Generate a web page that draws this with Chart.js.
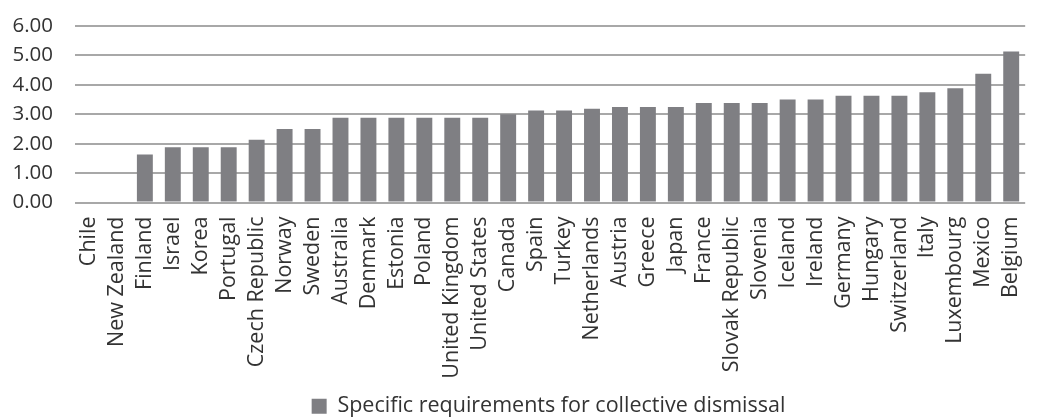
<!DOCTYPE html>
<html>
<head>
<meta charset="utf-8">
<script src="https://cdn.jsdelivr.net/npm/chart.js@4/dist/chart.umd.min.js"></script>
<style>
  html, body { margin: 0; padding: 0; background: #fff; }
  #wrap { width: 1051px; height: 417px; }
</style>
</head>
<body>
<div id="wrap"><canvas id="dismissalChart" width="1051" height="417"></canvas></div>
<script>
const countries = [
  'Chile', 'New Zealand', 'Finland', 'Israel', 'Korea', 'Portugal', 'Czech Republic',
  'Norway', 'Sweden', 'Australia', 'Denmark', 'Estonia', 'Poland', 'United Kingdom',
  'United States', 'Canada', 'Spain', 'Turkey', 'Netherlands', 'Austria', 'Greece',
  'Japan', 'France', 'Slovak Republic', 'Slovenia', 'Iceland', 'Ireland', 'Germany',
  'Hungary', 'Switzerland', 'Italy', 'Luxembourg', 'Mexico', 'Belgium'
];
const collectiveDismissal = [
  0, 0, 1.63, 1.88, 1.88, 1.88, 2.13,
  2.50, 2.50, 2.88, 2.88, 2.88, 2.88, 2.88,
  2.88, 3.00, 3.13, 3.13, 3.19, 3.25, 3.25,
  3.25, 3.38, 3.38, 3.38, 3.50, 3.50, 3.63,
  3.63, 3.63, 3.75, 3.88, 4.38, 5.13
];
const yTicks = [0, 1, 2, 3, 4, 5, 6];

const textColor = '#333333';
const fontFamily = '"Open Sans", "Noto Sans", sans-serif';

// nudge the legend a little right of the canvas centre
const legendShift = {
  id: 'legendShift',
  afterLayout(chart) {
    chart.legend.left += 22;
    chart.legend.right += 22;
  }
};

const ctx = document.getElementById('dismissalChart').getContext('2d');
new Chart(ctx, {
  type: 'bar',
  data: {
    labels: countries,
    datasets: [{
      label: 'Specific requirements for collective dismissal',
      data: collectiveDismissal,
      backgroundColor: '#7f7f83',
      borderWidth: 0,
      categoryPercentage: 1,
      barPercentage: 0.57
    }]
  },
  plugins: [legendShift],
  options: {
    responsive: false,
    animation: false,
    layout: { padding: { top: 26, right: 0, left: 2, bottom: -10 } },
    plugins: {
      tooltip: { enabled: false },
      legend: {
        position: 'bottom',
        labels: {
          color: textColor,
          font: { family: fontFamily, size: 21.5 },
          boxWidth: 15,
          boxHeight: 15,
          padding: 2
        }
      }
    },
    scales: {
      x: {
        grid: { display: false, drawTicks: false },
        border: { display: false },
        afterFit: s => { s.height = 191; },
        ticks: {
          autoSkip: false,
          maxRotation: 90,
          minRotation: 90,
          padding: 14,
          color: textColor,
          font: { family: fontFamily, size: 21.5 }
        }
      },
      y: {
        min: 0,
        max: 6,
        afterBuildTicks: axis => { axis.ticks = yTicks.map(v => ({ value: v })); },
        afterFit: s => {
          s.width = 73;
          s.paddingTop = 0;
          s.paddingBottom = 0;
        },
        grid: { color: '#a8a8a8', lineWidth: 2, drawTicks: false },
        border: { display: false },
        ticks: {
          autoSkip: false,
          padding: 22,
          color: textColor,
          font: { family: fontFamily, size: 20.5 },
          callback: v => v.toFixed(2)
        }
      }
    }
  }
});
</script>
</body>
</html>
